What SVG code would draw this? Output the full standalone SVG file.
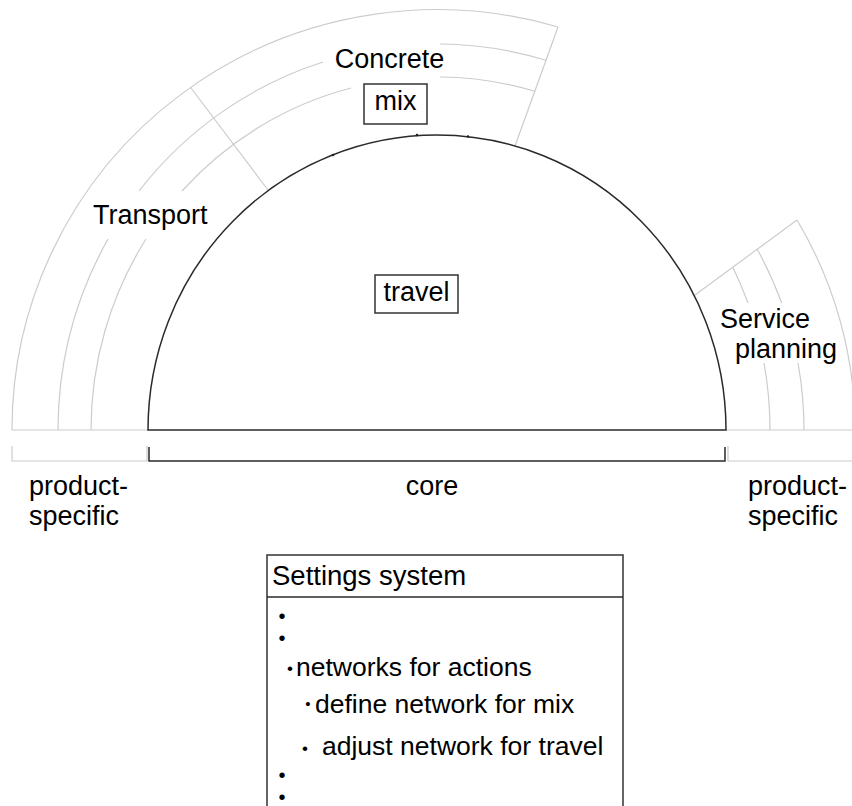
<svg xmlns="http://www.w3.org/2000/svg" width="852" height="806" viewBox="0 0 852 806">
<style>
.g{fill:none;stroke:#cccccc;stroke-width:1.2}
.k{fill:none;stroke:#2a2a2a;stroke-width:1.5}
.b{fill:#fff;stroke:#333;stroke-width:1.5}
text{font-family:"Liberation Sans",Arial,sans-serif;fill:#000}
.t{font-size:27px}
.l{font-size:26.5px}
.bu{font-size:20px;text-anchor:middle}
.m{text-anchor:middle}
</style>
<rect width="852" height="806" fill="#fff"/>
<g id="connectors">
  <!-- left group: Transport / Concrete -->
  <path class="g" d="M12,430 A425,420 0 0 1 558,27"/>
  <path class="g" d="M558,27 L515,146"/>
  <path class="g" d="M191,88 L268,190"/>
  <path class="g" d="M58,430 A379,386 0 0 1 108,239"/>
  <path class="g" d="M139,191 A379,386 0 0 1 323,62"/>
  <path class="g" d="M440,44 A379,386 0 0 1 546,60.3"/>
  <path class="g" d="M91,430 A346,353 0 0 1 146,239"/>
  <path class="g" d="M182,191 A346,353 0 0 1 351,88"/>
  <path class="g" d="M440,77 A346,353 0 0 1 534.8,91.3"/>
  <!-- right group: Service planning -->
  <path class="g" d="M797,220 A418,413 0 0 1 855,430"/>
  <path class="g" d="M797,220 L695,295"/>
  <path class="g" d="M732.8,267.2 A333,355 0 0 1 748,303"/>
  <path class="g" d="M764,363 A333,355 0 0 1 770,430"/>
  <path class="g" d="M757.2,249.3 A367,370 0 0 1 781.7,303"/>
  <path class="g" d="M798,363 A367,370 0 0 1 804,430"/>
  <!-- baselines -->
  <path class="g" d="M12,430 H148 M726,430 H852"/>
  <path class="g" d="M12,446 V461 H147 V446 M728,446 V461 H852"/>
  <path class="k" d="M149,447 V461 H725 V447"/>
</g>
<g id="core">
  <path class="k" d="M148,430 A289,295 0 0 1 726,430 Z"/>
  <circle cx="333" cy="155" r="1.3" fill="#222"/>
  <circle cx="417" cy="135" r="1.3" fill="#222"/>
  <circle cx="468" cy="136.5" r="1.3" fill="#222"/>
</g>
<g id="travel">
  <rect class="b" x="375" y="275" width="83" height="38"/>
  <text class="t m" x="416.5" y="301">travel</text>
</g>
<g id="concrete">
  <text class="t m" x="389.5" y="68">Concrete</text>
</g>
<g id="mix">
  <rect class="b" x="364" y="84" width="63" height="40"/>
  <text class="t m" x="395.5" y="110">mix</text>
</g>
<g id="transport">
  <text class="t" x="93" y="223.5">Transport</text>
</g>
<g id="service-planning">
  <text class="t" x="720" y="328">Service</text>
  <text class="t" x="735" y="358">planning</text>
</g>
<g id="label-left">
  <text class="t" x="29" y="495">product-</text>
  <text class="t" x="29" y="525">specific</text>
</g>
<g id="label-core">
  <text class="t m" x="432" y="495">core</text>
</g>
<g id="label-right">
  <text class="t" x="748" y="495">product-</text>
  <text class="t" x="748" y="525">specific</text>
</g>
<g id="settings-system">
  <path class="b" d="M267,810 V555 H623 V810"/>
  <path class="k" d="M267,597 H623"/>
  <text style="font-size:27.5px" x="272" y="585">Settings system</text>
  <text class="bu" x="282" y="622.5">•</text>
  <text class="bu" x="282" y="644.5">•</text>
  <text class="bu" x="290" y="674" style="font-size:17px">•</text>
  <text class="l" x="296" y="676">networks for actions</text>
  <text class="bu" x="308" y="708.5" style="font-size:15px">•</text>
  <text class="l" x="315" y="713">define network for mix</text>
  <text class="bu" x="305" y="754" style="font-size:17px">•</text>
  <text class="l" x="322" y="755">adjust network for travel</text>
  <text class="bu" x="282" y="781.5">•</text>
  <text class="bu" x="282" y="803.5">•</text>
</g>
</svg>
